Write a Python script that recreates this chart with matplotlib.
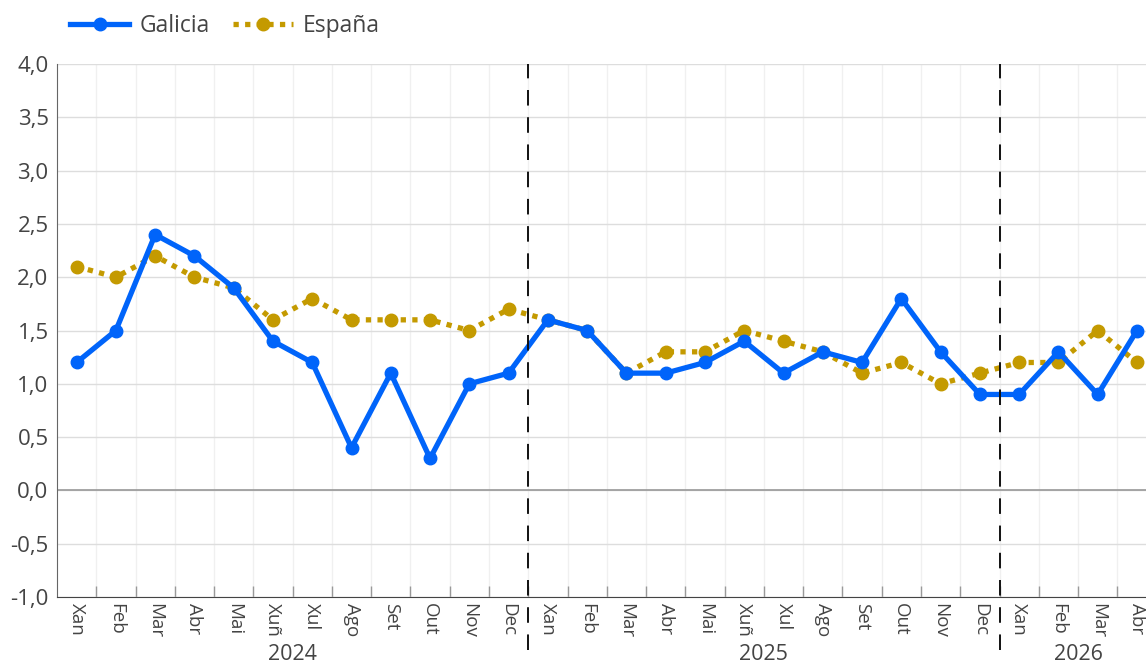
import matplotlib.pyplot as plt
import matplotlib.transforms as mtransforms
from matplotlib.ticker import FixedLocator, FuncFormatter

# Monthly data, Xan 2024 .. Abr 2026
months = ['Xan', 'Feb', 'Mar', 'Abr', 'Mai', 'Xuñ', 'Xul', 'Ago', 'Set', 'Out', 'Nov', 'Dec',
          'Xan', 'Feb', 'Mar', 'Abr', 'Mai', 'Xuñ', 'Xul', 'Ago', 'Set', 'Out', 'Nov', 'Dec',
          'Xan', 'Feb', 'Mar', 'Abr']
years = ['2024', '2025', '2026']
year_centers = [5.5, 17.5, 25.5]
year_breaks = [11.5, 23.5]

galicia = [1.2, 1.5, 2.4, 2.2, 1.9, 1.4, 1.2, 0.4, 1.1, 0.3, 1.0, 1.1,
           1.6, 1.5, 1.1, 1.1, 1.2, 1.4, 1.1, 1.3, 1.2, 1.8, 1.3, 0.9,
           0.9, 1.3, 0.9, 1.5]
espana = [2.1, 2.0, 2.2, 2.0, 1.9, 1.6, 1.8, 1.6, 1.6, 1.6, 1.5, 1.7,
          1.6, 1.5, 1.1, 1.3, 1.3, 1.5, 1.4, 1.3, 1.1, 1.2, 1.0, 1.1,
          1.2, 1.2, 1.5, 1.2]

plt.rcParams['font.family'] = ['Open Sans', 'DejaVu Sans']
TEXT = '#444444'

fig = plt.figure(figsize=(11.46, 6.66), dpi=100)
ax = fig.add_axes([0.0497, 0.1036, 1 - 0.0497, 0.8003])

x = list(range(len(months)))
l1, = ax.plot(x, galicia, color='#0064FA', lw=3.8, marker='o', ms=9,
              label='Galicia', zorder=4, solid_joinstyle='round')
l2, = ax.plot(x, espana, color='#C49A00', lw=3.8, marker='o', ms=9,
              linestyle=(0, (1, 1.2)), dash_capstyle='butt',
              label='España', zorder=3)

ax.set_xlim(-0.5, 27.23)
ax.set_ylim(-1, 4)

# y axis
ax.set_yticks([-1 + 0.5 * i for i in range(11)])
ax.yaxis.set_major_formatter(FuncFormatter(lambda v, p: f'{v:.1f}'.replace('.', ',')))
ax.tick_params(axis='y', length=0, pad=6, labelsize=16, labelcolor=TEXT)
ax.grid(axis='y', color='#dddddd', lw=1)
ax.axhline(0, color='#999999', lw=1.2, zorder=1)

# x axis: labels on months, ticks and grid on boundaries
ax.set_xticks(x)
ax.set_xticklabels(months, rotation=-90, fontsize=13.5, color=TEXT)
ax.tick_params(axis='x', which='major', length=0, pad=4)
ax.xaxis.set_minor_locator(FixedLocator([i + 0.5 for i in range(len(months))]))
ax.tick_params(axis='x', which='minor', direction='in', length=8, color='#999999', width=1)
ax.grid(axis='x', which='minor', color='#f0f0f0', lw=1)
ax.set_axisbelow(True)

for s in ['top', 'right']:
    ax.spines[s].set_visible(False)
ax.spines['left'].set_color('#666666')
ax.spines['bottom'].set_color('#444444')

trans = mtransforms.blended_transform_factory(ax.transData, ax.transAxes)
for xb in year_breaks:
    ax.plot([xb, xb], [-0.1, 1.0], transform=trans, color='#111111', lw=1.4,
            linestyle=(0, (8, 6)), clip_on=False, zorder=5)
for xc, yr in zip(year_centers, years):
    ax.text(xc, -0.088, yr, transform=trans, ha='center', va='top',
            fontsize=15.5, color=TEXT)

fig.legend(handles=[l1, l2], loc='upper left', bbox_to_anchor=(0.043, 1.01),
           ncol=2, frameon=False, fontsize=16.5, labelcolor=TEXT,
           handlelength=2.6, columnspacing=1.0, handletextpad=0.45)

fig.savefig('out.png', dpi=100)
